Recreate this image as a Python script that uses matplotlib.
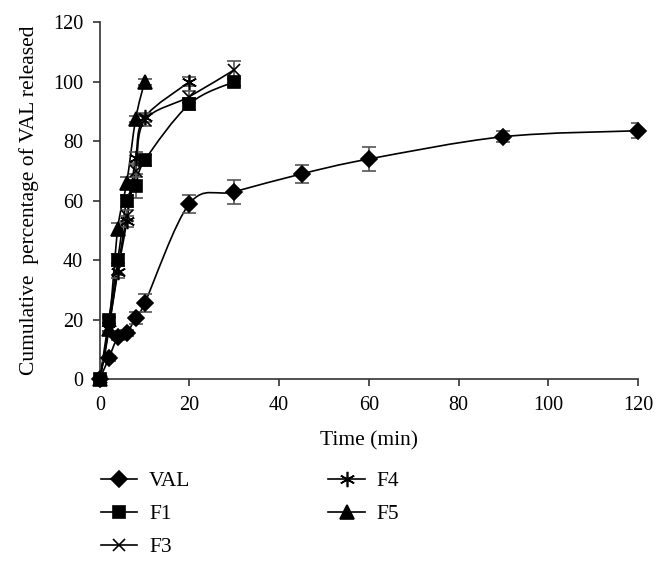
import numpy as np
import matplotlib.pyplot as plt
from matplotlib.path import Path
from matplotlib.patches import PathPatch
from matplotlib.lines import Line2D

plt.rcParams['font.family'] = ['Liberation Serif', 'DejaVu Serif']

# data
t_val = [0, 2, 4, 6, 8, 10, 20, 30, 45, 60, 90, 120]
val = [0, 7, 14, 15.5, 20.5, 25.5, 59, 63, 69, 74, 81.5, 83.5]
val_err = [0, 0.8, 1, 1, 2, 3, 3, 4, 3, 4, 1.8, 2.5]

t_f1 = [0, 2, 4, 6, 8, 10, 20, 30]
f1 = [0, 20, 40, 60, 65, 73.5, 92.5, 100]
f1_err = [0, 1, 2, 2, 4, 2, 2, 1.5]

t_f3 = [0, 2, 4, 6, 8, 10, 20, 30]
f3 = [0, 17, 37, 55, 70, 87, 95, 104]
f3_err = [0, 1, 2, 2, 2, 2, 2, 3]

t_f4 = [0, 2, 4, 6, 8, 10, 20]
f4 = [0, 17, 36, 53, 74.5, 88, 100]
f4_err = [0, 1, 2, 2, 2, 1.5, 1.5]

t_f5 = [0, 2, 4, 6, 8, 10]
f5 = [0, 17, 50.5, 66, 87.5, 100]
f5_err = [0, 1, 2, 2, 1, 1]


def smooth_path(x, y):
    # excel-like smoothed line through the points (bezier)
    p = np.column_stack([x, y]).astype(float)
    verts = [p[0]]
    codes = [Path.MOVETO]
    n = len(p)
    for i in range(n - 1):
        p0 = p[i - 1] if i > 0 else p[i]
        p3 = p[i + 2] if i + 2 < n else p[i + 1]
        c1 = p[i] + (p[i + 1] - p0) / 6
        c2 = p[i + 1] - (p3 - p[i]) / 6
        verts += [c1, c2, p[i + 1]]
        codes += [Path.CURVE4] * 3
    return Path(verts, codes)


fig = plt.figure(figsize=(6.61, 5.70), dpi=100)
ax = fig.add_axes([0.151, 0.335, 0.814, 0.626])

series = [
    ('VAL', t_val, val, val_err, 'D', 8),
    ('F1', t_f1, f1, f1_err, 's', 9),
    ('F3', t_f3, f3, f3_err, 'x', 9),
    ('F4', t_f4, f4, f4_err, (6, 2, 0), 11),
    ('F5', t_f5, f5, f5_err, '^', 10),
]

handles = []
for name, x, y, e, m, ms in series:
    ax.add_patch(PathPatch(smooth_path(x, y), facecolor='none',
                           edgecolor='black', lw=1.2, zorder=2))
    ax.errorbar(x, y, yerr=e, fmt='none', ecolor='#555555', elinewidth=1.2,
                capsize=5, capthick=1.2, zorder=3)
    ax.plot(x, y, linestyle='none', marker=m, markersize=ms, color='black',
            markeredgewidth=1.2, zorder=4, clip_on=False)
    handles.append(Line2D([], [], color='black', lw=1.2, marker=m,
                          markersize=ms, markeredgewidth=1.2, label=name))

ax.set_xlim(0, 120)
ax.set_ylim(0, 120)
ax.set_xticks(np.arange(0, 121, 20))
ax.set_yticks(np.arange(0, 121, 20))
for s in ['top', 'right']:
    ax.spines[s].set_visible(False)
for s in ['left', 'bottom']:
    ax.spines[s].set_linewidth(1.2)
    ax.spines[s].set_color('#333333')
ax.tick_params(labelsize=14.5, length=5, width=1.2, color='#333333', pad=7)
ax.set_xlabel('Time (min)', fontsize=15.5, labelpad=12)
ax.set_ylabel('Cumulative  percentage of VAL released', fontsize=15.5, labelpad=10)

fig.legend(handles=handles, ncol=2, loc='upper left',
           bbox_to_anchor=(0.123, 0.207), frameon=False, fontsize=15.5,
           handlelength=1.7, handletextpad=0.55, labelspacing=0.6,
           columnspacing=6.4)

fig.savefig('out.png', dpi=100)
